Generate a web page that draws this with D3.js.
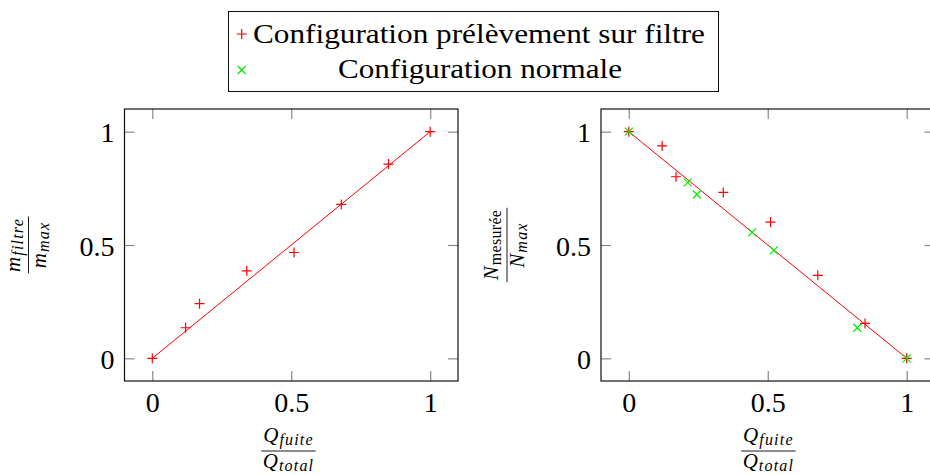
<!DOCTYPE html>
<html>
<head>
<meta charset="utf-8">
<script src="https://cdn.jsdelivr.net/npm/d3@7"></script>
<style>
  html, body { margin: 0; padding: 0; background: #fff; }
  svg { display: block; }
  text { font-family: "Liberation Serif", "DejaVu Serif", serif; fill: #000; }
</style>
</head>
<body>
<svg id="chart" width="930" height="475"></svg>
<script>
// Leak fraction shared by both panels
const qFuite = [0, 0.12, 0.17, 0.34, 0.51, 0.68, 0.85, 1];

// Left panel: filter mass ratio (sampling-on-filter configuration)
const mFiltre = [0, 0.135, 0.241, 0.386, 0.467, 0.679, 0.857, 1];

// Right panel: measured count ratio
const nMesureFiltre = [1, 0.937, 0.801, 0.732, 0.601, 0.366, 0.154, 0];
const qFuiteNormale = [0, 0.212, 0.245, 0.444, 0.522, 0.822, 1];
const nMesureNormale = [1, 0.776, 0.723, 0.556, 0.476, 0.135, 0];

// Reference lines
const fitX = [0, 1];
const fitLeftY = [0, 1];
const fitRightY = [1, 0];

const tickValues = [0, 0.5, 1];
const tickLabels = ["0", "0.5", "1"];
const legendLabels = ["Configuration prélèvement sur filtre", "Configuration normale"];

const RED = "#ff0000";
const GREEN = "#00ee00";
const TICK_GRAY = "#8a8a8a";
const SERIF = "'Liberation Serif', 'DejaVu Serif', serif";

const svg = d3.select("#chart");

const plusPath = "M-5,0H5M0,-5V5";
const crossPath = "M-4,-4L4,4M-4,4L4,-4";

function drawPanel(left, right) {
  const x = d3.scaleLinear().domain([-0.1, 1.1]).range([left, right]);
  const y = d3.scaleLinear().domain([-0.1, 1.1]).range([381, 109]);
  const g = svg.append("g");

  // inward ticks on all four sides
  const fmt = d => tickLabels[tickValues.indexOf(d)];
  const bottom = g.append("g").attr("transform", `translate(0,${y.range()[0]})`)
    .call(d3.axisBottom(x).tickValues(tickValues).tickSize(-10).tickPadding(11).tickFormat(fmt));
  const top = g.append("g").attr("transform", `translate(0,${y.range()[1]})`)
    .call(d3.axisTop(x).tickValues(tickValues).tickSize(-10).tickFormat(""));
  const leftAx = g.append("g").attr("transform", `translate(${left},0)`)
    .call(d3.axisLeft(y).tickValues(tickValues).tickSize(-10).tickPadding(10).tickFormat(fmt));
  const rightAx = g.append("g").attr("transform", `translate(${right},0)`)
    .call(d3.axisRight(y).tickValues(tickValues).tickSize(-10).tickFormat(""));

  [bottom, top, leftAx, rightAx].forEach(a => {
    a.select(".domain").remove();
    a.attr("font-family", SERIF);
    a.selectAll(".tick line").attr("stroke", TICK_GRAY).attr("stroke-width", 1.2);
    a.selectAll(".tick text")
      .attr("font-family", SERIF)
      .attr("font-size", 28)
      .attr("fill", "#000");
  });
  leftAx.selectAll(".tick text").attr("dy", "0.36em");

  // frame
  g.append("rect")
    .attr("x", left).attr("y", y.range()[1])
    .attr("width", right - left).attr("height", y.range()[0] - y.range()[1])
    .attr("fill", "none").attr("stroke", "#111").attr("stroke-width", 1.2);

  return { g, x, y };
}

function drawFit(p, xs, ys) {
  const line = d3.line().x(d => p.x(d[0])).y(d => p.y(d[1]));
  p.g.append("path")
    .attr("d", line(d3.zip(xs, ys)))
    .attr("fill", "none").attr("stroke", RED).attr("stroke-width", 1);
}

function drawMarkers(p, xs, ys, path, color) {
  p.g.append("g").selectAll("path")
    .data(d3.zip(xs, ys))
    .join("path")
    .attr("transform", d => `translate(${p.x(d[0])},${p.y(d[1])})`)
    .attr("d", path)
    .attr("fill", "none").attr("stroke", color).attr("stroke-width", 1.2);
}

// Builds a stacked fraction: numerator/denominator = {main, sub, subItalic}
function fraction(parent, num, den) {
  const g = parent.append("g");
  function term(t, baseY) {
    const txt = g.append("text").attr("text-anchor", "middle").attr("y", baseY)
      .attr("font-family", SERIF);
    txt.append("tspan").attr("font-style", "italic").attr("font-size", 21).text(t.main);
    txt.append("tspan").attr("font-style", t.subItalic ? "italic" : "normal")
      .attr("font-size", 16).attr("dy", 3).attr("dx", 1)
      .attr("letter-spacing", t.subItalic ? 1.2 : 0.3)
      .text(t.sub);
    return txt;
  }
  const a = term(num, -9);
  const b = term(den, 17);
  const w = Math.max(a.node().getBBox().width, b.node().getBBox().width) + 3;
  g.append("line").attr("x1", -w / 2).attr("x2", w / 2).attr("y1", 0).attr("y2", 0)
    .attr("stroke", "#000").attr("stroke-width", 0.9);
  return g;
}

// Left panel
const pL = drawPanel(124.5, 458);
drawFit(pL, fitX, fitLeftY);
drawMarkers(pL, qFuite, mFiltre, plusPath, RED);

// Right panel
const pR = drawPanel(601, 934.5);
drawFit(pR, fitX, fitRightY);
drawMarkers(pR, qFuite, nMesureFiltre, plusPath, RED);
drawMarkers(pR, qFuiteNormale, nMesureNormale, crossPath, GREEN);

// Axis labels
const qNum = { main: "Q", sub: "fuite", subItalic: true };
const qDen = { main: "Q", sub: "total", subItalic: true };
fraction(svg, qNum, qDen).attr("transform", "translate(288.5,451)");
fraction(svg, qNum, qDen).attr("transform", "translate(768.4,451)");
fraction(svg, { main: "m", sub: "filtre", subItalic: true },
              { main: "m", sub: "max", subItalic: true })
  .attr("transform", "translate(28.5,245) rotate(-90)");
fraction(svg, { main: "N", sub: "mesurée", subItalic: false },
              { main: "N", sub: "max", subItalic: true })
  .attr("transform", "translate(507,245) rotate(-90)");

// Legend
const lg = svg.append("g");
lg.append("rect").attr("x", 228.5).attr("y", 11.5).attr("width", 490).attr("height", 80)
  .attr("fill", "#fff").attr("stroke", "#111").attr("stroke-width", 1);
lg.append("path").attr("transform", "translate(241.7,34)").attr("d", plusPath)
  .attr("fill", "none").attr("stroke", RED).attr("stroke-width", 1.2);
lg.append("path").attr("transform", "translate(241.7,70)").attr("d", crossPath)
  .attr("fill", "none").attr("stroke", GREEN).attr("stroke-width", 1.2);
lg.append("text").attr("x", 479).attr("y", 43).attr("text-anchor", "middle")
  .attr("font-family", SERIF).attr("font-size", 28)
  .attr("textLength", 452).attr("lengthAdjust", "spacingAndGlyphs")
  .text(legendLabels[0]);
lg.append("text").attr("x", 480).attr("y", 78.3).attr("text-anchor", "middle")
  .attr("font-family", SERIF).attr("font-size", 28)
  .attr("textLength", 284).attr("lengthAdjust", "spacingAndGlyphs")
  .text(legendLabels[1]);
</script>
</body>
</html>
